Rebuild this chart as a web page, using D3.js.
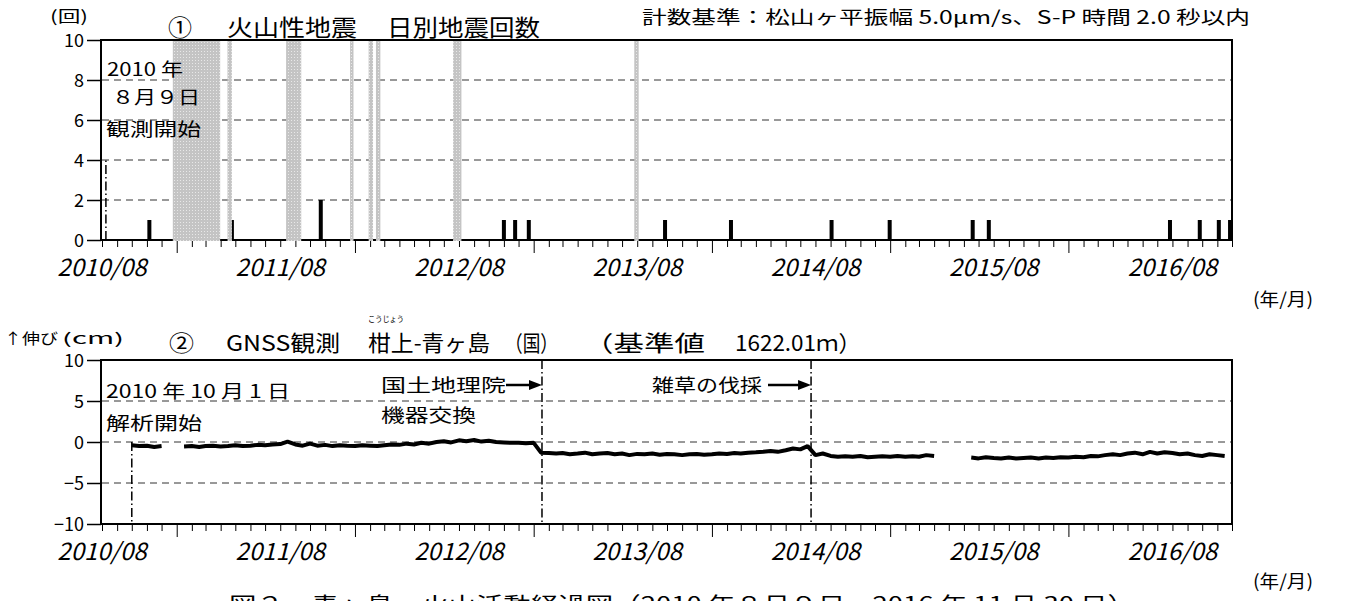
<!DOCTYPE html>
<html>
<head>
<meta charset="utf-8">
<script src="https://cdn.jsdelivr.net/npm/d3@7"></script>
<style>
body { margin: 0; background: #fff; }
text { font-family: "Noto Sans CJK JP", sans-serif; fill: #000; }
</style>
</head>
<body>
<script>
const width = 1347;
const height = 601;

// daily volcanic earthquake counts (days with events only)
const quakeDates = ["2010-11-06", "2011-04-24", "2011-10-23", "2012-11-01", "2012-11-24", "2012-12-22",
    "2013-09-27", "2014-02-09", "2014-09-03", "2014-12-31", "2015-06-19", "2015-07-22",
    "2016-07-27", "2016-09-26", "2016-11-04", "2016-11-27"];
const quakeCounts = [1, 1, 2, 1, 1, 1, 1, 1, 1, 1, 1, 1, 1, 1, 1, 1];

// periods without data (shaded)
const gapStarts = ["2010-12-24", "2011-04-15", "2011-08-13", "2011-12-22", "2012-01-29", "2012-02-13", "2012-07-20", "2013-07-26"];
const gapEnds = ["2011-03-31", "2011-04-24", "2011-09-13", "2011-12-29", "2012-02-07", "2012-02-22", "2012-08-06", "2013-08-04"];

// GNSS baseline change (cm), one value per half month (1st and 16th) from 2010-10
const gnssStart = "2010-10-01";
const gnssValues = [
    -0.4, -0.5, -0.45, -0.6, -0.5, null,
    null, -0.55, -0.5, -0.6, -0.5, -0.45, -0.55, -0.5, -0.4, -0.5, -0.45, -0.35, -0.4, -0.3, -0.25, 0.05, -0.3, -0.45, -0.2, -0.45, -0.35, -0.5, -0.4, -0.45,
    -0.5, -0.4, -0.45, -0.5, -0.4, -0.3, -0.35, -0.2, -0.3, -0.1, -0.2, 0.0, 0.1, -0.05, 0.2, 0.1, 0.25, 0.05, 0.15, 0.0, -0.05, -0.1, -0.1, -0.15,
    -0.1, -1.3, -1.35, -1.4, -1.35, -1.5, -1.4, -1.3, -1.5, -1.4, -1.35, -1.5, -1.4, -1.6, -1.45, -1.5, -1.4, -1.55, -1.45, -1.5, -1.6, -1.5, -1.45, -1.55,
    -1.5, -1.4, -1.45, -1.35, -1.4, -1.3, -1.25, -1.2, -1.1, -1.2, -1.0, -0.8, -0.9, -0.5, -1.6, -1.4, -1.7, -1.8, -1.75, -1.8, -1.7, -1.85, -1.8, -1.75,
    -1.8, -1.7, -1.8, -1.75, -1.8, -1.6, -1.7, null, null, null, null, -1.9, -2.0, -1.85, -1.95, -2.0, -1.9, -2.0, -1.95, -1.9, -2.0, -1.9, -1.95, -1.85,
    -1.9, -1.8, -1.85, -1.7, -1.75, -1.6, -1.5, -1.6, -1.4, -1.3, -1.5, -1.2, -1.4, -1.25, -1.35, -1.5, -1.4, -1.6, -1.7, -1.5, -1.6, -1.7
];

const xLabels = ["2010/08", "2011/08", "2012/08", "2013/08", "2014/08", "2015/08", "2016/08"];
const quakeTicks = [0, 2, 4, 6, 8, 10];
const gnssTicks = [-10, -5, 0, 5, 10];

const obsStart = "2010-08-09";
const gnssBegin = "2010-10-01";
const swapDate = "2013-01-18";
const weedDate = "2014-07-23";

const parse = d3.timeParse("%Y-%m-%d");

const svg = d3.select("body").append("svg")
    .attr("width", width)
    .attr("height", height);

const defs = svg.append("defs");
const pat = defs.append("pattern").attr("id", "shade")
    .attr("width", 3).attr("height", 3).attr("patternUnits", "userSpaceOnUse");
pat.append("rect").attr("width", 3).attr("height", 3).attr("fill", "#c4c4c4");
pat.append("rect").attr("width", 1).attr("height", 1).attr("fill", "#e8e8e8");

const x = d3.scaleTime()
    .domain([new Date(2010, 7, 1), new Date(2016, 11, 1)])
    .range([102, 1232]);

const y1 = d3.scaleLinear().domain([0, 10]).range([240, 40]);
const y2 = d3.scaleLinear().domain([-10, 10]).range([524, 360]);

function drawFrame(y, ticks, gridVals) {
    const g = svg.append("g");
    const [y0, yTop] = y.range();
    // grid
    g.selectAll(".grid").data(gridVals).enter().append("line")
        .attr("x1", 102).attr("x2", 1232)
        .attr("y1", d => y(d)).attr("y2", d => y(d))
        .attr("stroke", "#333").attr("stroke-dasharray", "7,5");
    // y axis
    const ya = g.append("g").attr("transform", "translate(101,0)")
        .call(d3.axisLeft(y).tickValues(ticks).tickSize(14).tickPadding(3).tickFormat(d3.format("d")));
    ya.select(".domain").remove();
    ya.selectAll("line").attr("stroke", "#000").attr("stroke-width", 1.5);
    ya.selectAll("text").attr("font-family", "Liberation Sans, Arial, sans-serif")
        .attr("font-size", 18).attr("dy", "0.35em");
    // x axis monthly ticks
    const xa = g.append("g").attr("transform", `translate(0,${y0})`)
        .call(d3.axisBottom(x).ticks(d3.timeMonth.every(1)).tickSize(7).tickFormat(""));
    xa.select(".domain").remove();
    xa.selectAll(".tick line").attr("stroke", "#000")
        .attr("y2", d => d.getMonth() === 0 ? 13 : 7);
    // labels at August
    g.selectAll(".xl").data(xLabels).enter().append("text")
        .attr("x", d => x(d3.timeParse("%Y/%m")(d)))
        .attr("y", y0 + 36)
        .attr("text-anchor", "middle")
        .attr("font-family", "Liberation Serif, Times New Roman, serif")
        .attr("font-style", "italic")
        .attr("font-size", 24)
        .text(d => d);
    return g;
}

function drawBox(y) {
    const [y0, yTop] = y.range();
    svg.append("rect")
        .attr("x", 101).attr("y", yTop)
        .attr("width", 1232 - 101).attr("height", y0 - yTop)
        .attr("fill", "none").attr("stroke", "#000").attr("stroke-width", 2);
}

function label(str, x0, x1, yb, size) {
    const t = svg.append("text").attr("x", x0).attr("y", yb)
        .attr("font-size", size).text(str);
    if (x1) t.attr("textLength", x1 - x0).attr("lengthAdjust", "spacingAndGlyphs");
    return t;
}

function dashDot(xv, ya, yb) {
    svg.append("line")
        .attr("x1", xv).attr("x2", xv).attr("y1", ya).attr("y2", yb)
        .attr("stroke", "#000").attr("stroke-width", 1.5)
        .attr("stroke-dasharray", "9,3,1.5,3");
}

// ---------- chart 1 : earthquake counts ----------
drawFrame(y1, quakeTicks, [2, 4, 6, 8]);
drawBox(y1);

const quakes = quakeDates.map((d, i) => ({date: parse(d), n: quakeCounts[i]}));
svg.selectAll(".bar").data(quakes).enter().append("rect")
    .attr("x", d => x(d.date) - 2)
    .attr("y", d => y1(d.n))
    .attr("width", 4)
    .attr("height", d => y1(0) - y1(d.n))
    .attr("fill", "#000");

const gaps = gapStarts.map((d, i) => ({a: parse(d), b: parse(gapEnds[i])}));
svg.selectAll(".gap").data(gaps).enter().append("rect")
    .attr("x", d => x(d.a))
    .attr("y", y1(10) + 1)
    .attr("width", d => x(d.b) - x(d.a))
    .attr("height", y1(0) - y1(10))
    .attr("fill", "url(#shade)");

dashDot(x(parse(obsStart)), y1(0), y1(4));

label("(回)", 50, 88, 22, 16);
label("①", 168, 192, 36, 23);
label("火山性地震", 227, 357, 36, 23);
label("日別地震回数", 387, 540, 36, 23);
label("計数基準：松山ヶ平振幅 5.0μm/s、S-P 時間 2.0 秒以内", 642, 1250, 24, 18);
label("2010 年", 107, 183, 76, 18);
label("８月９日", 112, 200, 104, 18);
label("観測開始", 106, 201, 136, 18);
label("(年/月)", 1253, 1313, 306, 18);

// ---------- chart 2 : GNSS ----------
drawFrame(y2, gnssTicks, [5, 0, -5]);

const g0 = parse(gnssStart);
const gnss = gnssValues.map((v, i) => {
    const m = d3.timeMonth.offset(g0, Math.floor(i / 2));
    return {date: i % 2 ? d3.timeDay.offset(m, 15) : m, v: v};
});

svg.append("path")
    .datum(gnss)
    .attr("fill", "none")
    .attr("stroke", "#000")
    .attr("stroke-width", 4)
    .attr("stroke-linejoin", "bevel")
    .attr("d", d3.line()
        .defined(d => d.v !== null)
        .x(d => x(d.date))
        .y(d => y2(d.v)));

drawBox(y2);

dashDot(x(parse(gnssBegin)), y2(0), y2(-10));
dashDot(x(parse(swapDate)), y2(10), y2(-10));
dashDot(x(parse(weedDate)), y2(10), y2(-10));

function arrow(x0, x1, yv) {
    svg.append("line").attr("x1", x0).attr("x2", x1 - 10).attr("y1", yv).attr("y2", yv)
        .attr("stroke", "#000").attr("stroke-width", 2.5);
    svg.append("path")
        .attr("d", `M${x1},${yv} L${x1 - 13},${yv - 5} L${x1 - 13},${yv + 5} Z`)
        .attr("fill", "#000");
}

label("↑伸び", 4, 58, 344, 15);
label("(cm)", 62, 124, 344, 15);
label("こうじょう", 368, 404, 322, 8);
label("②", 169, 194, 351, 22);
label("GNSS観測", 226, 340, 351, 22);
label("柑上-青ヶ島", 368, 490, 351, 22);
label("（国）", 505, 558, 351, 22);
label("（基準値", 583, 705, 351, 22);
label("1622.01ｍ）", 735, 861, 351, 22);

label("2010 年 10 月 1 日", 106, 290, 398, 18);
label("解析開始", 106, 202, 430, 18);
label("国土地理院", 381, 506, 392, 18);
label("機器交換", 381, 476, 422, 18);
arrow(506, x(parse(swapDate)), 385);
label("雑草の伐採", 652, 762, 392, 18);
arrow(768, x(parse(weedDate)), 385);

label("(年/月)", 1253, 1313, 588, 18);
label("図２　青ヶ島　火山活動経過図（2010 年８月９日～2016 年 11 月 30 日）", 229, 1135, 612, 21);
</script>
</body>
</html>
